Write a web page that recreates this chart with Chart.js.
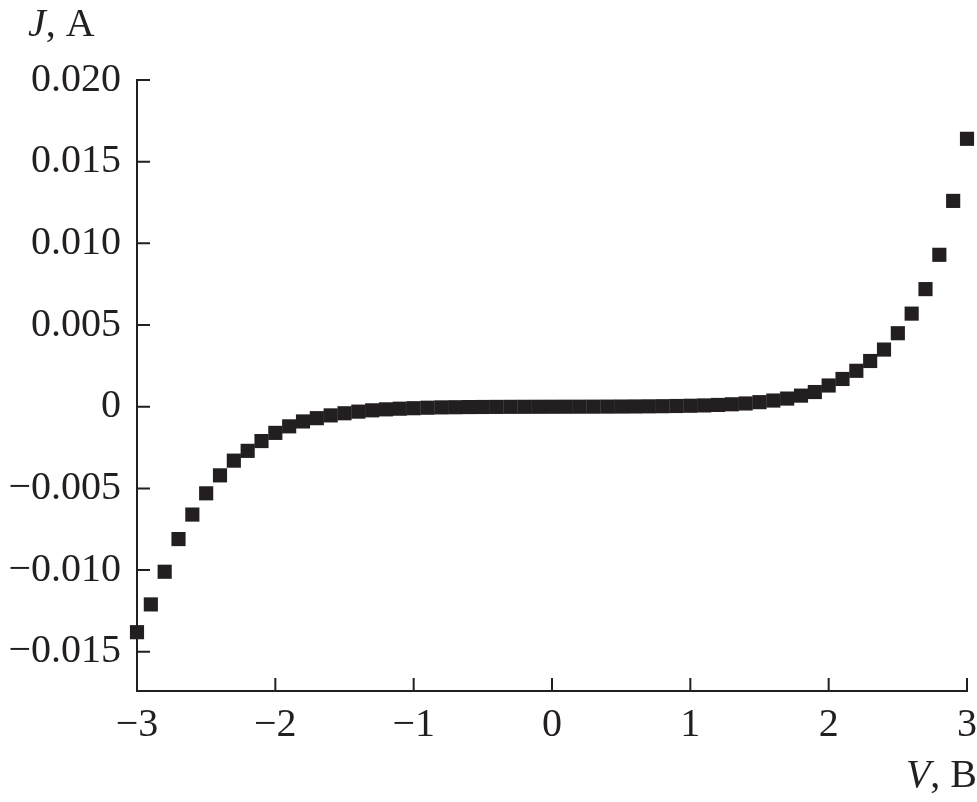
<!DOCTYPE html>
<html>
<head>
<meta charset="utf-8">
<script src="https://cdn.jsdelivr.net/npm/chart.js@4/dist/chart.umd.min.js"></script>
<style>
  html, body { margin: 0; padding: 0; background: #fff; }
  #wrap { width: 977px; height: 802px; }
</style>
</head>
<body>
<div id="wrap"><canvas id="ivChart" width="977" height="802"></canvas></div>
<script>
// V, B
const voltage = [
    -3.0, -2.9, -2.8, -2.7, -2.6, -2.5, -2.4, -2.3, -2.2, -2.1,
    -2.0, -1.9, -1.8, -1.7, -1.6, -1.5, -1.4, -1.3, -1.2, -1.1,
    -1.0, -0.9, -0.8, -0.7, -0.6, -0.5, -0.4, -0.3, -0.2, -0.1,
    0.0, 0.1, 0.2, 0.3, 0.4, 0.5, 0.6, 0.7, 0.8, 0.9,
    1.0, 1.1, 1.2, 1.3, 1.4, 1.5, 1.6, 1.7, 1.8, 1.9,
    2.0, 2.1, 2.2, 2.3, 2.4, 2.5, 2.6, 2.7, 2.8, 2.9, 3.0
];
// J, A
const current = [
    -0.0138, -0.0121, -0.0101, -0.0081, -0.0066, -0.0053, -0.0042, -0.0033, -0.0027, -0.0021,
    -0.0016, -0.0012, -0.0009, -0.0007, -0.00053, -0.0004, -0.0003, -0.00022, -0.00016, -0.00012,
    -0.00009, -0.00006, -0.00004, -0.00003, -0.00002, -0.000015, -0.00001, -0.000006, -0.000004, -0.000002,
    0, 0.000002, 0.000003, 0.000005, 0.000008, 0.000012, 0.000017, 0.000024, 0.000033, 0.000045,
    0.00006, 0.00008, 0.00011, 0.00015, 0.0002, 0.00028, 0.00038, 0.0005, 0.00068, 0.0009,
    0.0013, 0.0017, 0.0022, 0.0028, 0.0035, 0.0045, 0.0057, 0.0072, 0.0093, 0.0126, 0.0164
];
const xTicks = [-3, -2, -1, 0, 1, 2, 3];
const yTicks = [-0.015, -0.010, -0.005, 0, 0.005, 0.010, 0.015, 0.020];

const ink = '#231f20';
const serif = "'Liberation Serif', 'Times New Roman', serif";

function minus(s) {
    return s.replace('-', '\u2212');
}

// ticks point into the plot, so draw them by hand
const innerTicks = {
    id: 'innerTicks',
    afterDraw(chart) {
        const ctx = chart.ctx;
        const xs = chart.scales.x, ys = chart.scales.y;
        const area = chart.chartArea;
        ctx.save();
        ctx.strokeStyle = ink;
        ctx.lineWidth = 2;
        ctx.beginPath();
        xTicks.forEach(v => {
            let px = xs.getPixelForValue(v);
            ctx.moveTo(px, area.bottom);
            ctx.lineTo(px, area.bottom - 13);
        });
        yTicks.forEach(v => {
            let py = ys.getPixelForValue(v);
            ctx.moveTo(area.left, py);
            ctx.lineTo(area.left + 13, py);
        });
        ctx.stroke();

        // axis names, italic letter + plain unit
        ctx.fillStyle = ink;
        ctx.textBaseline = 'alphabetic';
        ctx.textAlign = 'left';
        ctx.font = 'italic 40px ' + serif;
        ctx.fillText('J', 28, 36);
        let w = ctx.measureText('J').width;
        ctx.font = '40px ' + serif;
        ctx.fillText(', A', 28 + w, 36);

        ctx.font = '40px ' + serif;
        let unitW = ctx.measureText(', B').width;
        ctx.font = 'italic 40px ' + serif;
        let vW = ctx.measureText('V').width;
        let start = 977 - unitW - vW;
        ctx.fillText('V', start, 787);
        ctx.font = '40px ' + serif;
        ctx.fillText(', B', start + vW, 787);
        ctx.restore();
    }
};

new Chart(document.getElementById('ivChart'), {
    type: 'scatter',
    data: {
        datasets: [{
            data: voltage.map((v, i) => ({ x: v, y: current[i] })),
            pointStyle: 'rect',
            pointRadius: 10,
            pointHoverRadius: 10,
            pointBorderWidth: 0,
            backgroundColor: ink,
            borderColor: ink,
            clip: false
        }]
    },
    options: {
        responsive: false,
        animation: false,
        layout: { padding: { top: 80, right: 0, left: 0, bottom: 0 } },
        plugins: {
            legend: { display: false },
            tooltip: { enabled: false }
        },
        scales: {
            x: {
                type: 'linear',
                min: -3,
                max: 3,
                afterBuildTicks: s => { s.ticks = xTicks.map(v => ({ value: v })); },
                afterFit: s => { s.height = 111; s.paddingRight = 10; s.paddingLeft = 0; },
                grid: { display: false, drawTicks: false },
                border: { display: true, color: ink, width: 2 },
                ticks: {
                    color: ink,
                    padding: 10,
                    font: { family: serif, size: 40 },
                    callback: v => minus(String(v))
                }
            },
            y: {
                type: 'linear',
                min: -0.0174,
                max: 0.020,
                afterBuildTicks: s => { s.ticks = yTicks.map(v => ({ value: v })); },
                afterFit: s => { s.width = 137; },
                grid: { display: false, drawTicks: false },
                border: { display: true, color: ink, width: 2 },
                ticks: {
                    color: ink,
                    padding: 16,
                    font: { family: serif, size: 40 },
                    callback: v => Math.abs(v) < 1e-9 ? '0' : minus(v.toFixed(3))
                }
            }
        }
    },
    plugins: [innerTicks]
});
</script>
</body>
</html>
